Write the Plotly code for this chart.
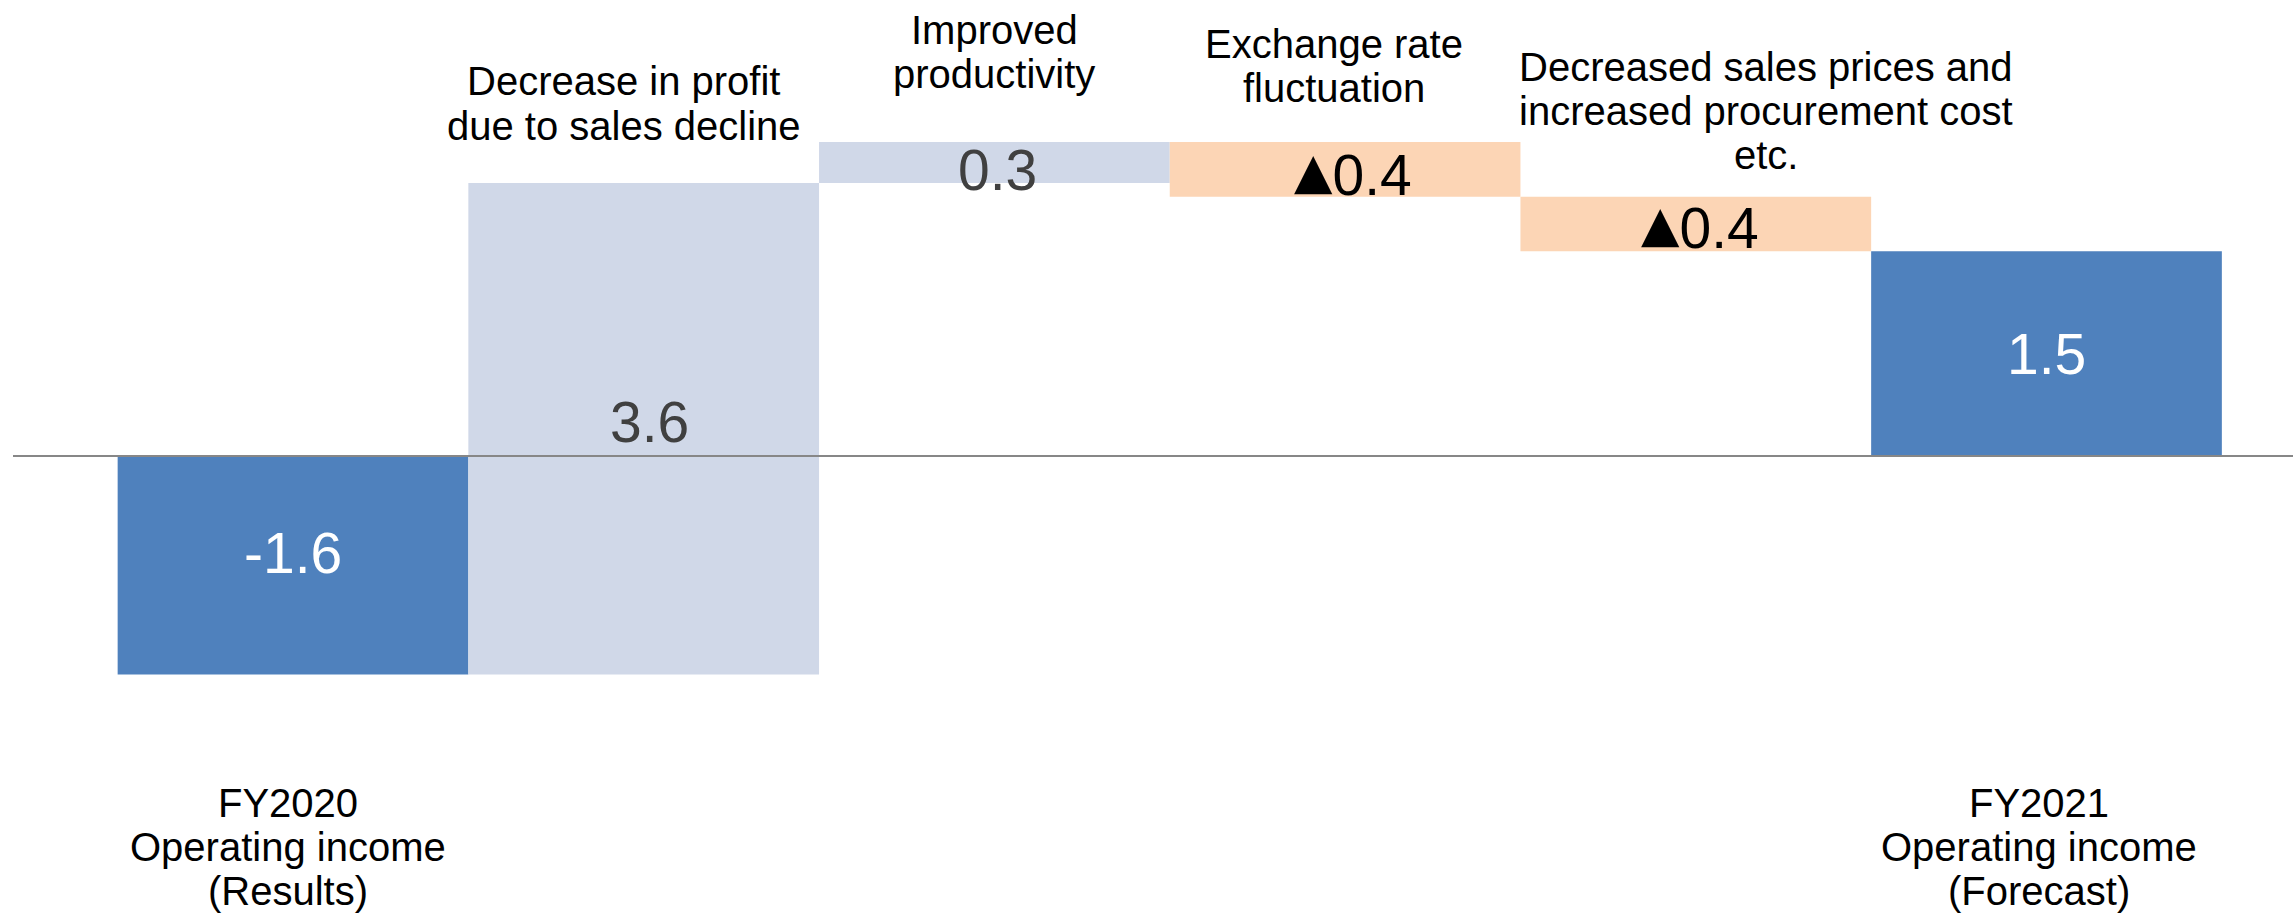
import plotly.graph_objects as go

# ---- data ----
categories = ["FY2020 Operating income (Results)",
              "Decrease in profit due to sales decline",
              "Improved productivity",
              "Exchange rate fluctuation",
              "Decreased sales prices and increased procurement cost etc.",
              "FY2021 Operating income (Forecast)"]
measures = ["absolute", "relative", "relative", "relative", "relative", "total"]
values = [-1.6, 3.6, 0.3, -0.4, -0.4, 1.5]
value_labels = ["-1.6", "3.6", "0.3", "▲0.4", "▲0.4", "1.5"]

# label lines (top labels above bars, bottom labels for totals)
label_lines = [
    ["FY2020", "Operating income", "(Results)"],
    ["Decrease in profit", "due to sales decline"],
    ["Improved", "productivity"],
    ["Exchange rate", "fluctuation"],
    ["Decreased sales prices and", "increased procurement cost", "etc."],
    ["FY2021", "Operating income", "(Forecast)"],
]

# ---- styling / layout constants ----
W, H = 2293, 913
BLUE = "#4F81BD"
LIGHT = "#D0D8E8"
PEACH = "#FCD5B5"
FONT = "Liberation Sans"
LABEL_SIZE = 40
VALUE_SIZE = 57
LINE_GAP = 44  # px between label lines

# first-line centre (pixels from top) and horizontal shift for each label block
label_first_y = [803, 81.5, 30, 43.7, 67, 803]
label_xshift = [-5, -20, 0, -11, 70, -8]
value_yshift = [12, 7, -7, -5, -4, 0]
value_xshift = [0, 6, 3, 8, 4, 0]

x = list(range(len(categories)))

# bar spans (start/end) computed from the waterfall values
spans = []
cum = 0.0
for m, v in zip(measures, values):
    if m == "absolute":
        spans.append((0.0, v)); cum = v
    elif m == "relative":
        spans.append((cum, cum + v)); cum += v
    else:
        spans.append((0.0, cum))

fig = go.Figure(go.Waterfall(
    x=x, y=values, measure=measures,
    width=1,
    increasing=dict(marker=dict(color=LIGHT)),
    decreasing=dict(marker=dict(color=PEACH)),
    totals=dict(marker=dict(color=BLUE)),
    connector=dict(visible=False),
    textposition="none",
    hoverinfo="x+y",
))


def styled(lab):
    # render the triangle with a font whose glyph matches the reference
    if lab.startswith("▲"):
        return ('<span style="font-family:\'DejaVu Sans\';font-size:50px;baseline-shift:7px">▲</span>'
                + lab[1:])
    return lab


annotations = []
for i, (m, lab) in enumerate(zip(measures, value_labels)):
    a, b = spans[i]
    if m in ("absolute", "total"):
        col = "white"
    elif values[i] > 0:
        col = "#404040"
    else:
        col = "#000000"
    annotations.append(dict(x=i, y=(a + b) / 2, xref="x", yref="y", text=styled(lab),
                            showarrow=False, yshift=value_yshift[i], xshift=value_xshift[i],
                            font=dict(family=FONT, size=VALUE_SIZE, color=col),
                            xanchor="center", yanchor="middle"))

for i, lines in enumerate(label_lines):
    for j, line in enumerate(lines):
        py = label_first_y[i] + j * LINE_GAP
        annotations.append(dict(x=i, y=1 - py / H, xref="x", yref="paper", text=line,
                                showarrow=False, xshift=label_xshift[i],
                                font=dict(family=FONT, size=LABEL_SIZE, color="#000000"),
                                xanchor="center", yanchor="middle"))

# axis ranges: 350.7 px per category, first bar centred at 293 px; 0 at 456 px, 136.5 px per unit
px_per_cat = 350.7
x0_px = 293
zero_px = 456
px_per_unit = 136.5

fig.update_layout(
    width=W, height=H,
    margin=dict(l=0, r=0, t=0, b=0),
    plot_bgcolor="white", paper_bgcolor="white",
    showlegend=False,
    bargap=0,
    xaxis=dict(range=[(0 - x0_px) / px_per_cat, (W - x0_px) / px_per_cat],
               showticklabels=False, showgrid=False, zeroline=False, showline=False),
    yaxis=dict(range=[(zero_px - H) / px_per_unit, zero_px / px_per_unit],
               showticklabels=False, showgrid=False, zeroline=False, showline=False),
    annotations=annotations,
    shapes=[dict(type="line", xref="paper", yref="y", x0=13 / W, x1=1, y0=0, y1=0,
                 line=dict(color="#878787", width=2), layer="above")],
)

fig.write_html("out.html",
               config={"displayModeBar": False},
               post_script="document.body.style.margin='0';document.body.style.overflow='hidden';")
